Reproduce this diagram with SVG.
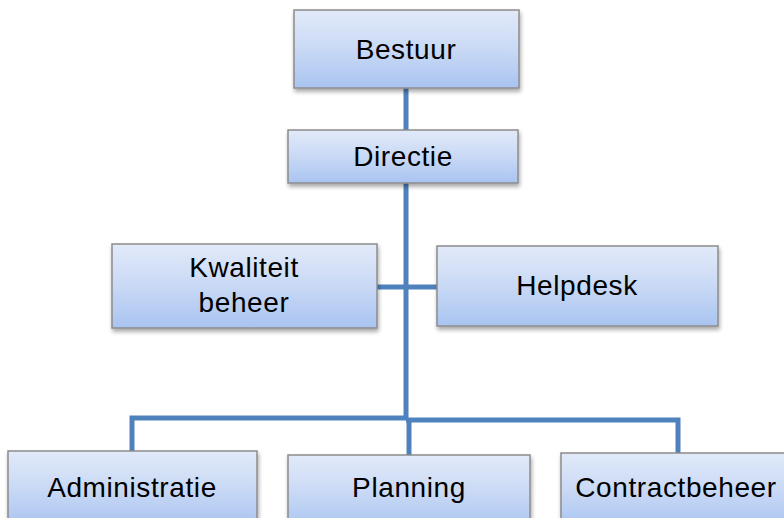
<svg xmlns="http://www.w3.org/2000/svg" width="784" height="518" viewBox="0 0 784 518">
<defs>
<linearGradient id="g" x1="0" y1="0" x2="0" y2="1">
<stop offset="0" stop-color="#E2EAF9"/>
<stop offset="0.5" stop-color="#C9D9F5"/>
<stop offset="1" stop-color="#A9C4F1"/>
</linearGradient>
<filter id="sh" x="-10%" y="-10%" width="120%" height="130%">
<feGaussianBlur in="SourceAlpha" stdDeviation="2"/>
<feOffset dx="1" dy="3" result="b"/>
<feComponentTransfer><feFuncA type="linear" slope="0.35"/></feComponentTransfer>
<feMerge><feMergeNode/><feMergeNode in="SourceGraphic"/></feMerge>
</filter>
</defs>
<style>
.box{fill:url(#g);stroke:#8C8C8C;stroke-width:1.5;filter:url(#sh)}
.t{font-family:"Liberation Sans",Arial,sans-serif;font-size:28px;letter-spacing:0.6px;fill:#000;text-anchor:middle}
.c{stroke:#4F81BD;stroke-width:5;fill:none}
</style>
<rect width="784" height="518" fill="#fff"/>
<g id="connectors">
<line class="c" x1="406" y1="88" x2="406" y2="420"/>
<line class="c" x1="377" y1="287" x2="437" y2="287"/>
<polyline class="c" points="132,451 132,418 406,418"/>
<polyline class="c" points="406,420 678,420 678,453"/>
<line class="c" x1="409" y1="418" x2="409" y2="455"/>
</g>
<g id="bestuur"><rect class="box" x="294" y="10" width="225" height="78"/><text class="t" x="406" y="59">Bestuur</text></g>
<g id="directie"><rect class="box" x="288" y="130" width="230" height="53"/><text class="t" x="403" y="166">Directie</text></g>
<g id="kwaliteit"><rect class="box" x="112" y="244" width="265" height="84"/><text class="t" x="244" y="277">Kwaliteit</text><text class="t" x="244" y="312">beheer</text></g>
<g id="helpdesk"><rect class="box" x="437" y="246" width="281" height="80"/><text class="t" x="577" y="295">Helpdesk</text></g>
<g id="administratie"><rect class="box" x="8" y="451" width="249" height="75"/><text class="t" x="132" y="497">Administratie</text></g>
<g id="planning"><rect class="box" x="288" y="455" width="242" height="75"/><text class="t" x="409" y="497">Planning</text></g>
<g id="contractbeheer"><rect class="box" x="561" y="453" width="230" height="75"/><text class="t" x="676" y="497">Contractbeheer</text></g>
</svg>
